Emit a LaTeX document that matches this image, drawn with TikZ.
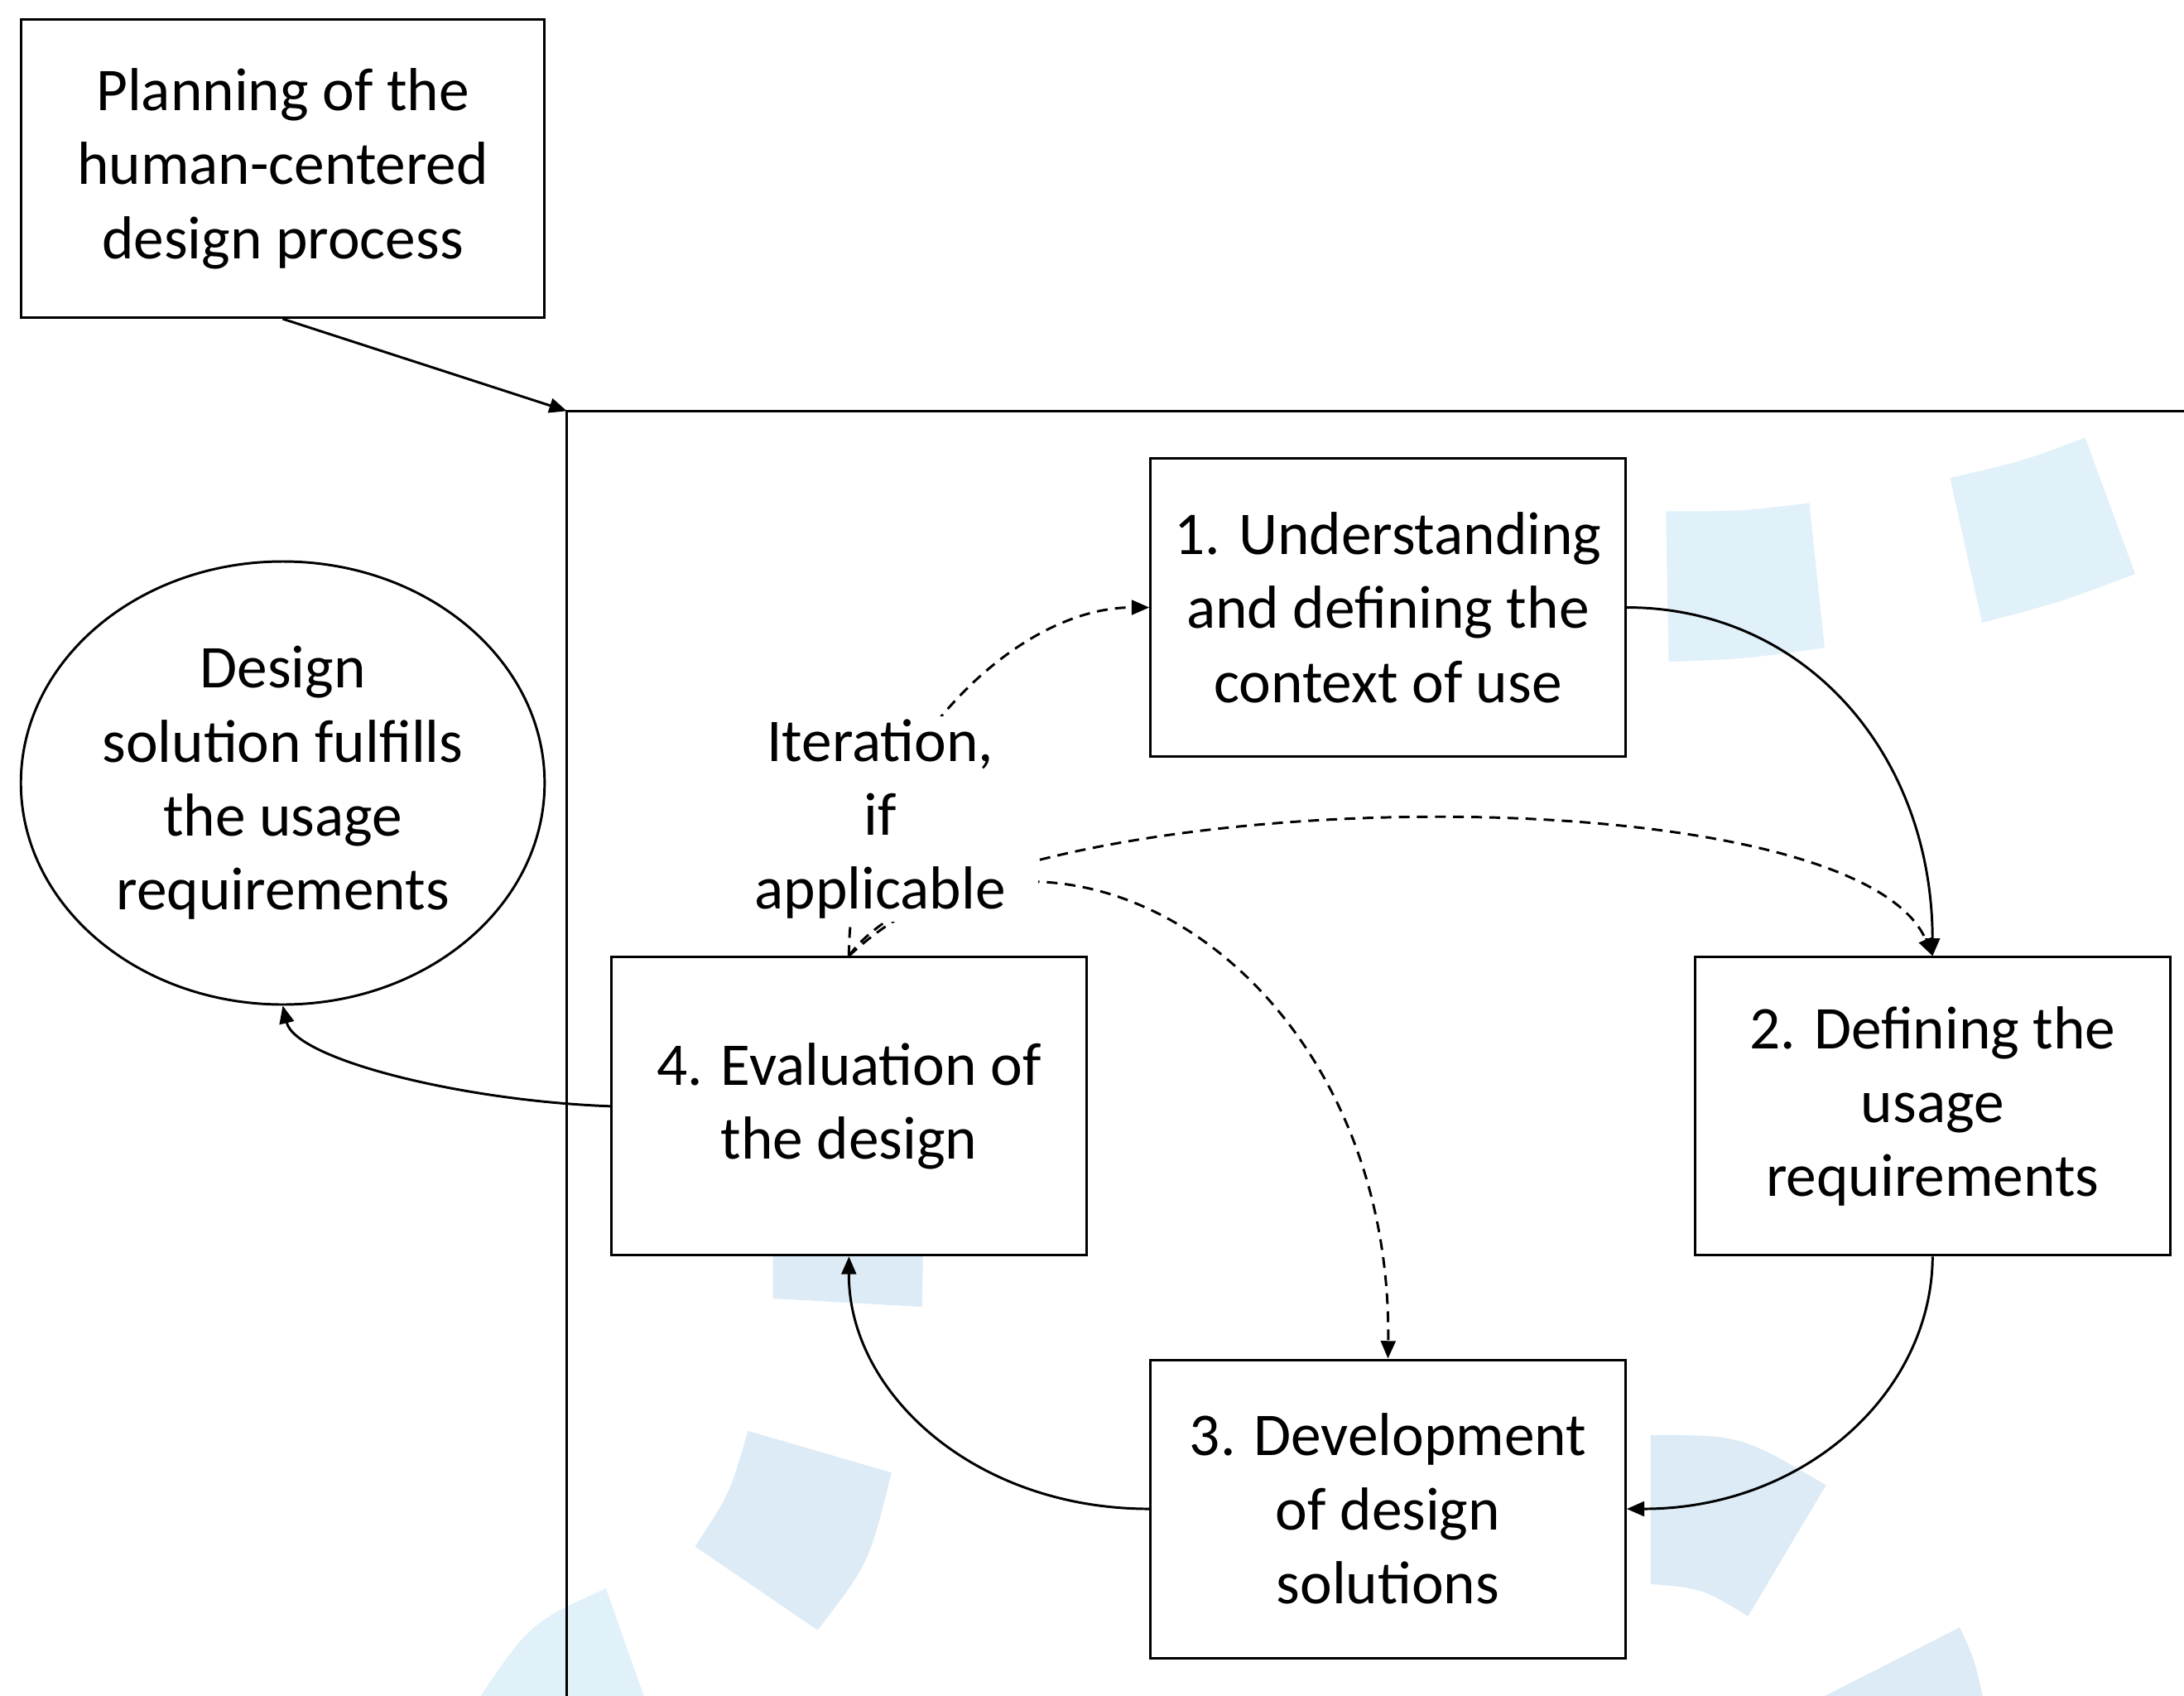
\documentclass[tikz,border=0pt]{standalone}
\usepackage{fontspec}
\setmainfont{Carlito}
\usepackage{xcolor}
\usepackage{tikz}
\usetikzlibrary{arrows.meta,shapes.geometric}

\definecolor{wheelA}{RGB}{225,241,249}
\definecolor{wheelB}{RGB}{220,235,246}

\begin{document}
\begin{tikzpicture}[
        x=0.1mm, y=-0.1mm,
        font=\fontsize{12.4}{15.1}\selectfont,
        >={Triangle[length=3.6pt, width=3pt]},
        box/.style={draw=black, line width=0.5pt, fill=white, inner sep=0pt, minimum width=34.1mm, minimum height=21.4mm, align=center},
        planbox/.style={box, minimum width=37.6mm},
        goal/.style={draw=black, line width=0.5pt, fill=white, ellipse, inner sep=0pt, minimum width=37.6mm, minimum height=31.8mm, align=center},
        note/.style={fill=white, inner xsep=2.3mm, inner ysep=0.2mm, align=center},
        flow/.style={->, line width=0.5pt},
        iterline/.style={->, line width=0.5pt, dash pattern=on 2.2pt off 1.5pt},
        frameline/.style={line width=0.5pt},
        patchA/.style={fill=wheelA, draw=none},
        patchB/.style={fill=wheelB, draw=none}
    ]

    % background layer for the wheel segments
    \pgfdeclarelayer{background}
    \pgfsetlayers{background,main}

    \useasboundingbox (0,0) rectangle (1568,1217);

    % ==========================================
    % Planning and outcome
    % ==========================================
    \node[planbox] (plan) at (203,121) {Planning of the\\human-centered\\design process};
    \node[goal] (goal) at (203,562) {Design\\solution fulfills\\the usage\\requirements};

    \coordinate (frame) at (407,295);
    \coordinate (frame_b) at (407,1230);
    \coordinate (frame_r) at (1580,295);
    \draw[frameline] (frame_b) -- (frame) -- (frame_r);
    \draw[flow] (plan.south) -- (frame);

    % ==========================================
    % The four activities
    % ==========================================
    \node[box] (act1) at (996.5,436) {1. Understanding\\and defining the\\context of use};
    \node[box] (act2) at (1387.5,794) {2. Defining the\\usage\\requirements};
    \node[box] (act3) at (996.5,1083) {3. Development\\of design\\solutions};
    \node[box] (act4) at (609.5,794) {4. Evaluation of\\the design};

    \draw[flow] (act1.east) .. controls (1295,436) and (1387,540) .. (act2.north);
    \draw[flow] (act2.south) .. controls (1387,1000) and (1295,1083) .. (act3.east);
    \draw[flow] (act3.west) .. controls (700,1083) and (609,1000) .. (act4.south);
    \draw[flow] (act4.west) .. controls (330,790) and (212,760) .. (goal.south);

    % iteration loops (partly hidden by the label)
    \draw[iterline] (act4.north) .. controls (609,560) and (720,436) .. (act1.west);
    \draw[iterline] (act4.north) .. controls (700,560) and (1330,550) .. (act2.north);
    \draw[iterline] (act4.north) .. controls (760,545) and (1000,700) .. (act3.north);

    \node[note] (iter) at (632,588) {Iteration,\\if\\applicable};

    % ==========================================
    % Wheel segments behind everything
    % ==========================================
    \begin{pgfonlayer}{background}
        \fill[patchA] (1196,367) .. controls (1250,367) .. (1299,361) -- (1310,465)
            .. controls (1252,473) .. (1198,475) -- cycle;
        \fill[patchA] (1400,343) .. controls (1452,331) .. (1497,314) -- (1533,412)
            .. controls (1480,432) .. (1423,447) -- cycle;
        \fill[patchB] (555,880) -- (663,880) -- (662,938) -- (555,932) -- cycle;
        \fill[patchB] (537,1027) -- (640,1057) .. controls (624,1122) .. (587,1170)
            -- (499,1110) .. controls (524,1072) .. (537,1027) -- cycle;
        \fill[patchA] (340,1225) .. controls (380,1165) .. (435,1140) -- (465,1225) -- cycle;
        \fill[patchB] (1185,1030) .. controls (1250,1030) .. (1311,1066) -- (1255,1160)
            .. controls (1222,1140) .. (1185,1137) -- cycle;
        \fill[patchB] (1295,1225) -- (1407,1168) .. controls (1418,1192) .. (1425,1225) -- cycle;
    \end{pgfonlayer}

\end{tikzpicture}
\end{document}
